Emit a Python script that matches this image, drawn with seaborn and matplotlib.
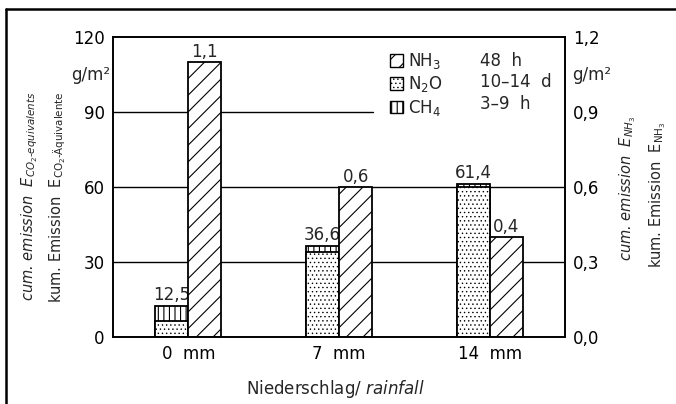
import numpy as np
import pandas as pd
import seaborn as sns
import matplotlib.pyplot as plt
import matplotlib.patches as mpatches
from matplotlib.lines import Line2D

# data
rain = ["0  mm", "7  mm", "14  mm"]
n2o = [6.3, 34.2, 60.2]      # g/m2 CO2-equivalents
ch4 = [6.2, 2.4, 1.2]        # g/m2 CO2-equivalents
nh3 = [1.1, 0.6, 0.4]        # g/m2
left_ticks = [0, 30, 60, 90, 120]
right_ticks = [0.0, 0.3, 0.6, 0.9, 1.2]
legend_gas = ["NH$_3$", "N$_2$O", "CH$_4$"]
legend_time = ["48  h", "10–14  d", "3–9  h"]


def comma(v, nd=1):
    return f"{v:.{nd}f}".replace(".", ",")


def filled(containers):
    # seaborn leaves empty containers for hue levels without data
    return [c for c in containers if len(c.patches) > 0][0]


def thin_hatch(patches, lw=0.5):
    for p in patches:
        if hasattr(p, "set_hatch_linewidth"):
            p.set_hatch_linewidth(lw)


sns.set_theme(style="white")
plt.rcParams["font.family"] = ["DejaVu Sans"]
plt.rcParams["mathtext.fontset"] = "dejavusans"
plt.rcParams["hatch.linewidth"] = 0.8

W, H = 676, 404
fig = plt.figure(figsize=(W / 100, H / 100), dpi=100)
ax = fig.add_axes([113 / W, 67 / H, 452 / W, 300 / H])

co2_total = np.add(n2o, ch4)
sides = ["co2", "nh3"]
df_tot = pd.DataFrame({"rain": rain, "side": "co2", "value": co2_total})
df_n2o = pd.DataFrame({"rain": rain, "side": "co2", "value": n2o})
df_nh3 = pd.DataFrame({"rain": rain, "side": "nh3", "value": nh3})

common = dict(x="rain", y="value", hue="side", hue_order=sides, order=rain,
              dodge=True, width=0.44, gap=0, palette={"co2": "white", "nh3": "white"},
              saturation=1, edgecolor="black", linewidth=1.3, errorbar=None,
              legend=False)

# stacked CO2-eq bar: CH4 on top of N2O
sns.barplot(data=df_tot, ax=ax, hatch="|||", **common)
tot_bars = filled(ax.containers)
sns.barplot(data=df_n2o, ax=ax, hatch="....", **common)
n2o_bars = [c for c in ax.containers if len(c.patches) > 0][-1]
thin_hatch(n2o_bars.patches)

ax2 = ax.twinx()
sns.barplot(data=df_nh3, ax=ax2, hatch="//", **common)
nh3_bars = filled(ax2.containers)

ax.set_xlim(-0.5, 2.5)
ax.set_ylim(0, 120)
ax2.set_ylim(0, 1.2)
ax.set_yticks(left_ticks)
ax.set_yticklabels([str(t) for t in left_ticks])
ax2.set_yticks(right_ticks)
ax2.set_yticklabels([comma(t) for t in right_ticks])
for a in (ax, ax2):
    a.set_xlabel("")
    a.set_ylabel("")
    a.tick_params(length=0, labelsize=12, pad=6, colors="black")
    for s in a.spines.values():
        s.set_color("black")
        s.set_linewidth(1.2)

# grid lines (the 90 line stops at the legend)
for g in (30, 60):
    ax.axhline(g, color="black", lw=1, zorder=0.5)
ax.axhline(90, xmax=0.575, color="black", lw=1, zorder=0.5)

# value labels
ax.bar_label(tot_bars, labels=[comma(v) for v in co2_total], padding=1, fontsize=12)
ax2.bar_label(nh3_bars, labels=[comma(v) for v in nh3], padding=1, fontsize=12)

# legend
handles = [mpatches.Patch(facecolor="white", edgecolor="black", hatch=h, lw=1)
           for h in ["//", "....", "|||"]]
blank = [mpatches.Patch(facecolor="none", edgecolor="none") for _ in legend_time]
leg = ax2.legend(handles + blank, legend_gas + legend_time, ncol=2, loc="upper left",
                 bbox_to_anchor=(0.613, 0.953), frameon=False, fontsize=12,
                 handlelength=0.8, handleheight=0.8, handletextpad=0.3,
                 columnspacing=1.1, labelspacing=0.2, borderpad=0, borderaxespad=0)
thin_hatch([leg.get_patches()[1]])

# units
fig.text(110 / W, 1 - 75 / H, "g/m²", ha="right", va="center", fontsize=12)
fig.text(572 / W, 1 - 75 / H, "g/m²", ha="left", va="center", fontsize=12)

# axis titles
fig.text(30 / W, 1 - 196 / H, r"cum. emission  $E_{CO_2\text{-}equivalents}$",
         rotation=90, ha="center", va="center", fontsize=10.5, style="italic")
fig.text(58 / W, 1 - 197 / H, r"kum. Emission  $\mathrm{E}_{\mathrm{CO_2\text{-}Äquivalente}}$",
         rotation=90, ha="center", va="center", fontsize=10.5)
fig.text(628 / W, 1 - 188 / H, r"cum. emission  $E_{NH_3}$",
         rotation=90, ha="center", va="center", fontsize=10.5, style="italic")
fig.text(658 / W, 1 - 195 / H, r"kum. Emission  $\mathrm{E}_{\mathrm{NH_3}}$",
         rotation=90, ha="center", va="center", fontsize=10.5)
fig.text(335 / W, 1 - 389 / H, r"Niederschlag/ $\mathit{rainfall}$",
         ha="center", va="center", fontsize=12)

# outer frame (top and left only)
fig.add_artist(Line2D([5.5 / W, 1], [1 - 9 / H, 1 - 9 / H], color="black", lw=1.8))
fig.add_artist(Line2D([5.5 / W, 5.5 / W], [0, 1 - 9 / H], color="black", lw=1.8))

fig.savefig("out.png", dpi=100)
